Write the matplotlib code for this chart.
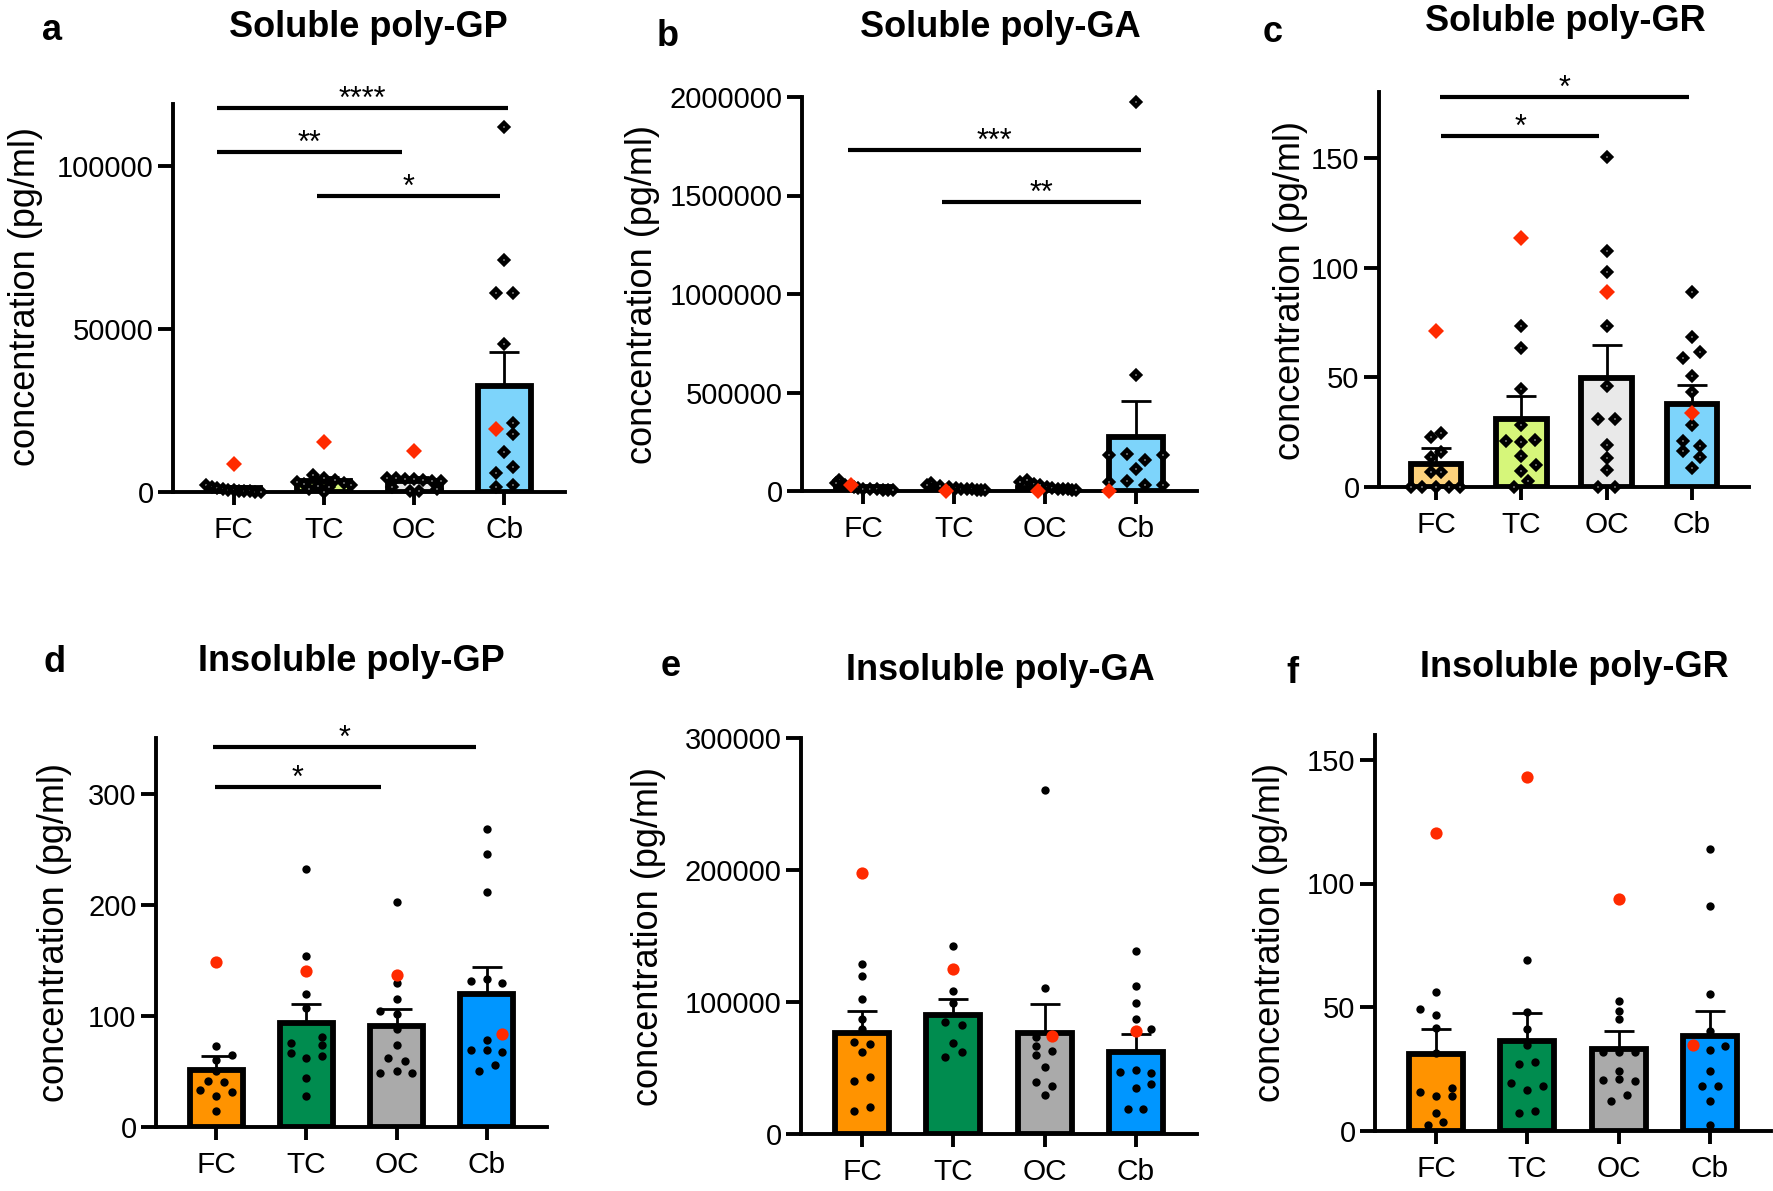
import matplotlib.pyplot as plt
import numpy as np

# Arial-like font
plt.rcParams['font.family'] = ['Liberation Sans', 'DejaVu Sans']

W, H = 1773, 1191
categorias = ['FC', 'TC', 'OC', 'Cb']
ROJO = '#ff2a00'
colores_solubles = ['#fdd27c', '#d6f67a', '#e9e9e9', '#7dd4fb']
colores_insolubles = ['#ff9300', '#008c4f', '#aaaaaa', '#0096ff']

# ---- a: soluble poly-GP ----
a_medias = [1300, 3300, 3450, 32500]
a_sem = [650, 1300, 1100, 10400]
a_puntos = [
    [2200, 1500, 1200, 900, 700, 500, 400, 300, 200, 100, 50],
    [5300, 4200, 3600, 3000, 2800, 2600, 2200, 1800, 1400, 900, 0],
    [4400, 4200, 4000, 3900, 3700, 3500, 3300, 1500, 800, 400, 200],
    [112000, 71100, 60900, 60900, 45300, 21100, 17800, 12300, 7600, 5800, 2000, 1400],
]
a_desv = [
    [-0.3, -0.24, -0.18, -0.12, -0.06, 0.0, 0.06, 0.12, 0.18, 0.24, 0.3],
    [-0.12, 0.0, 0.12, -0.3, 0.22, -0.22, 0.3, -0.06, 0.06, -0.16, 0.0],
    [-0.3, -0.2, -0.1, 0.0, 0.1, 0.2, 0.3, -0.25, 0.25, -0.05, 0.05],
    [0, 0, -0.09, 0.09, 0, 0.095, 0.095, 0, 0.095, -0.09, 0.095, -0.09],
]
a_rojos = [8700, 15400, 12700, 19400]
a_rojos_desv = [0, 0, 0, -0.09]
a_sig = [(-0.18, 3.04, 117800, '****'), (-0.18, 1.87, 104300, '**'), (0.92, 2.95, 90900, '*')]

# ---- b: soluble poly-GA ----
b_medias = [18000, 11000, 17000, 276000]
b_sem = [4000, 3000, 4500, 179000]
b_puntos = [
    [54000, 40000, 30000, 22000, 16000, 12000, 10000, 8000, 6000, 5000, 4000],
    [40000, 30000, 25000, 18000, 14000, 12000, 10000, 8000, 6000, 5000, 3000],
    [54000, 45000, 38000, 28000, 20000, 15000, 12000, 10000, 8000, 6000, 4000],
    [1973000, 590000, 180500, 180500, 189500, 157000, 113700, 48700, 45100, 32500, 32500],
]
b_desv = [
    [-0.26, -0.3, -0.2, -0.1, -0.05, 0.0, 0.08, 0.15, 0.22, 0.28, 0.33],
    [-0.25, -0.3, -0.15, -0.05, 0.02, 0.08, 0.14, 0.2, 0.25, 0.3, 0.34],
    [-0.2, -0.28, -0.12, -0.05, 0.02, 0.08, 0.14, 0.2, 0.25, 0.3, 0.34],
    [0, 0, -0.3, 0.3, -0.1, 0.1, 0, -0.1, -0.3, 0.1, 0.3],
]
b_rojos = [30000, 0, 0, 0]
b_rojos_desv = [-0.13, -0.09, -0.08, -0.3]
b_sig = [(-0.17, 3.05, 1732800, '***'), (0.87, 3.05, 1467500, '**')]

# ---- c: soluble poly-GR ----
c_medias = [10.7, 31, 49.5, 37.8]
c_sem = [7.2, 10.6, 15.1, 8.5]
c_puntos = [
    [22.9, 24.5, 15.9, 13.5, 7, 7, 0, 0, 0, 0, 0],
    [73.2, 63.5, 44.8, 28.4, 20.8, 20.3, 21.3, 14.3, 10.2, 7.3, 2.9, 0],
    [150.3, 107.6, 97.9, 73.2, 45.9, 31, 31, 19.2, 13, 7.8, 0, 0],
    [89, 68.3, 61.4, 58.9, 50.8, 43.5, 28.1, 20.8, 18.7, 16.2, 13.5, 8.6],
]
c_desv = [
    [-0.06, 0.06, 0.06, -0.06, -0.06, 0.06, -0.3, -0.16, 0, 0.15, 0.28],
    [0, 0, 0, 0, -0.18, 0, 0.16, 0, 0.17, 0, 0.08, -0.09],
    [0, 0, 0, 0, 0, -0.1, 0.1, 0, 0, 0, -0.1, 0.1],
    [0, 0, 0.1, -0.1, 0, 0, 0, -0.1, 0.1, -0.1, 0.1, 0],
]
c_rojos = [71, 113.3, 89, 33.8]
c_rojos_desv = [0, 0, 0, 0]
c_sig = [(0.04, 2.97, 177.8, '*'), (0.06, 1.91, 160.1, '*')]

# ---- d: insoluble poly-GP ----
d_medias = [51, 93.2, 91.2, 120]
d_sem = [13.2, 17.6, 15.2, 23.6]
d_puntos = [
    [72.6, 65.2, 60.1, 50.7, 41.6, 40.5, 33.1, 31.4, 28, 14.5],
    [231.8, 154, 120, 106.8, 81, 76, 73.6, 66.9, 63.5, 61.8, 43.9, 28],
    [202.7, 129.4, 114.9, 104, 101.4, 87.8, 73.6, 61.8, 59.5, 50, 48.3, 48.3],
    [268, 245.3, 211.5, 131.1, 132.8, 129.4, 78.7, 69.6, 69.6, 67.6, 56.1, 50.7],
]
d_desv = [
    [0, 0.17, 0, 0, -0.09, 0.08, -0.18, 0.17, 0, 0],
    [0, 0, 0, 0, 0.17, -0.17, 0.17, -0.17, 0.17, 0, 0, 0],
    [0, 0, 0, -0.18, 0, 0, 0, -0.09, 0.09, 0, -0.18, 0.17],
    [0, 0, 0, -0.17, 0, 0.17, 0, -0.17, 0, 0.17, 0.09, -0.09],
]
d_rojos = [148.6, 140.5, 137.2, 83.8]
d_rojos_desv = [0, 0, 0, 0.17]
d_sig = [(-0.04, 2.88, 342.2, '*'), (-0.02, 1.83, 305.7, '*')]

# ---- e: insoluble poly-GA ----
e_medias = [76800, 89900, 76200, 62500]
e_sem = [16600, 12600, 22000, 13200]
e_puntos = [
    [128500, 119600, 101900, 87100, 79700, 69900, 68200, 62000, 43400, 40500, 20600, 17700],
    [142800, 108500, 99600, 84800, 82800, 69100, 62500, 58500],
    [260400, 110500, 73400, 66800, 62800, 60000, 50500, 39700, 36300, 29700],
    [139000, 112500, 99100, 87100, 79700, 48200, 46800, 46300, 37700, 34800, 19100, 19100],
]
e_desv = [
    [0, 0, 0, 0, 0, -0.09, 0.09, 0, 0.09, -0.09, 0.09, -0.09],
    [0, 0, 0, -0.09, 0.09, 0, 0.09, -0.09],
    [0, 0, -0.09, -0.09, 0.08, -0.09, 0, -0.09, 0.08, 0],
    [0, 0, 0, 0, 0.17, 0, -0.17, 0.17, 0.17, 0, -0.09, 0.08],
]
e_rojos = [197600, 124800, 74200, 77700]
e_rojos_desv = [0, 0, 0.08, 0]
e_sig = []

# ---- f: insoluble poly-GR ----
f_medias = [31.2, 36.5, 33.3, 38.3]
f_sem = [9.9, 11.2, 7.3, 10.3]
f_puntos = [
    [56.2, 49.4, 46.7, 41.7, 31.5, 17.4, 15.6, 14.1, 14.1, 7.3, 3.5, 2.4],
    [69.1, 48.2, 41.1, 34.8, 27, 27.7, 19.4, 18.3, 16.4, 7.3, 8],
    [52.4, 48.5, 45.2, 31.8, 31.8, 31.8, 24.2, 20.5, 20.9, 20.2, 14.4, 12.3],
    [114.1, 90.9, 55.3, 40.6, 34.2, 32.7, 24.2, 18.3, 18.3, 12.3, 2.4],
]
f_desv = [
    [0, -0.18, 0, 0, 0, 0.17, -0.18, 0, 0.17, 0, 0.08, -0.09],
    [0, 0, 0, 0, -0.09, 0.08, -0.18, 0.17, 0, -0.09, 0.08],
    [0, 0, 0, -0.17, 0, 0.18, 0, -0.17, 0, 0.18, 0.09, -0.08],
    [0, 0, 0, 0, 0.17, 0, 0, -0.09, 0.09, 0, 0],
]
f_rojos = [120.6, 142.9, 93.6, 34.8]
f_rojos_desv = [0, 0, 0, -0.18]
f_sig = []

fig = plt.figure(figsize=(W / 100, H / 100), dpi=100)


def crear_panel(rect, ylim, yticks, medias, sem, puntos, desv, rojos, rojos_desv,
                colores, forma, sig):
    # rect in pixels: left, right, top, y of zero line
    izq, der, arriba, cero = rect
    ax = fig.add_axes([izq / W, 1 - cero / H, (der - izq) / W, (cero - arriba) / H])
    x = np.arange(4)
    ax.bar(x, medias, width=0.59, color=colores, edgecolor='black', linewidth=4.2, zorder=1)
    ax.errorbar(x, medias, yerr=[np.zeros(4), sem], fmt='none', ecolor='black',
                elinewidth=2, capsize=11, capthick=2, zorder=2)
    for i in range(4):
        xs = i + np.array(desv[i])
        if forma == 'D':
            ax.plot(xs, puntos[i], 'D', ms=3.6, mfc='white', mec='black', mew=3.2,
                    ls='none', zorder=3, clip_on=False)
            ax.plot(i + rojos_desv[i], rojos[i], 'D', ms=8.5, color=ROJO, mew=0,
                    zorder=4, clip_on=False)
        else:
            ax.plot(xs, puntos[i], 'o', ms=6, color='black', mew=0,
                    ls='none', zorder=3, clip_on=False)
            ax.plot(i + rojos_desv[i], rojos[i], 'o', ms=8.8, color=ROJO, mew=0,
                    zorder=4, clip_on=False)
    for x0, x1, y, txt in sig:
        ax.plot([x0, x1], [y, y], color='black', lw=3, solid_capstyle='butt', clip_on=False)
        ax.text((x0 + x1) / 2, y, txt, ha='center', va='baseline', fontsize=22)
    ax.set_xlim(-0.67, 3.67)
    ax.set_ylim(*ylim)
    ax.set_yticks(yticks, labels=[str(int(t)) for t in yticks])
    ax.set_xticks(x, labels=categorias)
    for lado in ['top', 'right']:
        ax.spines[lado].set_visible(False)
    for lado in ['left', 'bottom']:
        ax.spines[lado].set_linewidth(2.8)
    ax.tick_params(axis='y', length=11, width=2.8, labelsize=21, pad=3)
    ax.tick_params(axis='x', length=9, width=2.8, labelsize=21.5, pad=8)
    return ax


def textos(letra, letra_x, letra_y, titulo, titulo_x, titulo_y, ylab_x, ylab_y):
    fig.text(letra_x / W, 1 - letra_y / H, letra, ha='center', va='baseline',
             fontsize=26, fontweight='bold')
    fig.text(titulo_x / W, 1 - titulo_y / H, titulo, ha='center', va='baseline',
             fontsize=26, fontweight='bold')
    fig.text(ylab_x / W, 1 - ylab_y / H, 'concentration (pg/ml)', rotation=90,
             ha='center', va='center', fontsize=26)


crear_panel((173, 565, 104, 492), (0, 119000), [0, 50000, 100000], a_medias, a_sem,
            a_puntos, a_desv, a_rojos, a_rojos_desv, colores_solubles, 'D', a_sig)
textos('a', 52, 40, 'Soluble poly-GP', 368, 37, 26, 297)

crear_panel((802, 1197, 97, 491), (0, 2000000), [0, 500000, 1000000, 1500000, 2000000],
            b_medias, b_sem, b_puntos, b_desv, b_rojos, b_rojos_desv,
            colores_solubles, 'D', b_sig)
textos('b', 668, 46, 'Soluble poly-GA', 1000, 37, 642, 294)

crear_panel((1379, 1749, 92, 487), (0, 180), [0, 50, 100, 150], c_medias, c_sem,
            c_puntos, c_desv, c_rojos, c_rojos_desv, colores_solubles, 'D', c_sig)
textos('c', 1273, 42, 'Soluble poly-GR', 1565, 31, 1290, 290)

crear_panel((156, 547, 738, 1127), (0, 350), [0, 100, 200, 300], d_medias, d_sem,
            d_puntos, d_desv, d_rojos, d_rojos_desv, colores_insolubles, 'o', d_sig)
textos('d', 55, 672, 'Insoluble poly-GP', 351, 671, 55, 932)

crear_panel((801, 1197, 738, 1134), (0, 300000), [0, 100000, 200000, 300000], e_medias,
            e_sem, e_puntos, e_desv, e_rojos, e_rojos_desv, colores_insolubles, 'o', e_sig)
textos('e', 671, 676, 'Insoluble poly-GA', 1000, 680, 649, 936)

crear_panel((1375, 1771, 735, 1131), (0, 160), [0, 50, 100, 150], f_medias, f_sem,
            f_puntos, f_desv, f_rojos, f_rojos_desv, colores_insolubles, 'o', f_sig)
textos('f', 1292, 683, 'Insoluble poly-GR', 1574, 677, 1271, 932)

fig.savefig('out.png', dpi=100)
